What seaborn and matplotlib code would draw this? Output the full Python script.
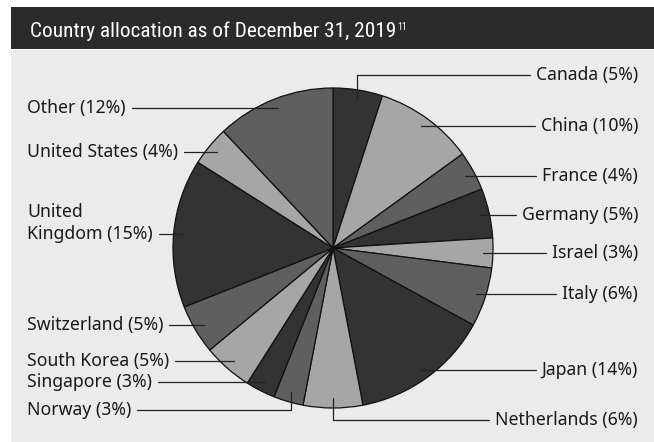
import numpy as np
import pandas as pd
import matplotlib
matplotlib.use("Agg")
import matplotlib.pyplot as plt
import seaborn as sns
from matplotlib.patches import Rectangle

# ---- data ----
countries = ["Canada", "China", "France", "Germany", "Israel", "Italy", "Japan",
             "Netherlands", "Norway", "Singapore", "South Korea", "Switzerland",
             "United Kingdom", "United States", "Other"]
weights = [5, 10, 4, 5, 3, 6, 14, 6, 3, 3, 5, 5, 15, 4, 12]
title_text = "Country allocation as of December 31, 2019"
footnote = "11"

# ---- style ----
sns.set_theme(style="white")
plt.rcParams["font.family"] = ["Noto Sans", "DejaVu Sans"]
palette = sns.color_palette(["#333333", "#a6a6a6", "#5f5f5f"])
colors = [palette[i % 3] for i in range(len(weights))]

W, H = 654, 442
fig = plt.figure(figsize=(W / 100, H / 100), dpi=100, facecolor="white")
ax = fig.add_axes([0, 0, 1, 1])

# background panels
ax.add_patch(Rectangle((11, 50), W - 11, H - 50, facecolor="#ebebeb", edgecolor="none", zorder=0))
ax.add_patch(Rectangle((11, 7), W - 11, 42, facecolor="#2b2b2b", edgecolor="none", zorder=0))

cx, cy, R = 333, 248, 160
wedges, _ = ax.pie(weights, colors=colors, startangle=-90, counterclock=True,
                   center=(cx, cy), radius=R,
                   wedgeprops=dict(edgecolor="#111111", linewidth=0.9))
ax.set_xlim(0, W)
ax.set_ylim(H, 0)
ax.set_aspect("auto")
ax.axis("off")

# title
TITLE_FONT = ["Liberation Sans Narrow", "Roboto Condensed", "Roboto", "DejaVu Sans"]
t = ax.text(30, 37, title_text, color="white", fontsize=15.3, va="baseline", ha="left",
            family=TITLE_FONT)

# label layout (elbow label rows)
elbow_y = {"Canada": 75, "Netherlands": 420, "Norway": 410}
wrap = {"United Kingdom": "United\nKingdom"}
LEFT_X, RIGHT_X, LINE_H = 27, 638, 22

renderer = fig.canvas.get_renderer()
inv = ax.transData.inverted()

def extent(txt):
    bb = txt.get_window_extent(renderer)
    (x0, y0), (x1, y1) = inv.transform([[bb.x0, bb.y0], [bb.x1, bb.y1]])
    return min(x0, x1), max(x0, x1), min(y0, y1), max(y0, y1)

for name, w, wedge in zip(countries, weights, wedges):
    mid = np.deg2rad((wedge.theta1 + wedge.theta2) / 2)
    ax_x = cx + 0.94 * R * np.cos(mid)
    ax_y = cy + 0.94 * R * np.sin(mid)
    right = np.cos(mid) > -0.05
    ly = elbow_y.get(name, ax_y)
    lines = (wrap.get(name, name) + f" ({w}%)").split("\n")
    txts = []
    for k, line in enumerate(lines):
        yy = ly - (len(lines) - 1 - k) * LINE_H
        txts.append(ax.text(RIGHT_X if right else LEFT_X, yy, line, fontsize=12.7,
                            color="#1a1a1a", va="center", ha="right" if right else "left"))
    x0, x1, _, _ = extent(txts[-1])
    end_x = x0 - 6 if right else x1 + 6
    if name in elbow_y:
        ax.plot([ax_x, ax_x, end_x], [ax_y, ly, ly], color="#222222", lw=0.9, zorder=5)
    else:
        ax.plot([ax_x, end_x], [ly, ly], color="#222222", lw=0.9, zorder=5)

# footnote superscript on title
x0, x1, y0, y1 = extent(t)
ax.text(x1 + 1, y0 + 1, footnote, color="white", fontsize=7, va="top", ha="left",
        family=TITLE_FONT)

fig.savefig("out.png", dpi=100, facecolor="white")
